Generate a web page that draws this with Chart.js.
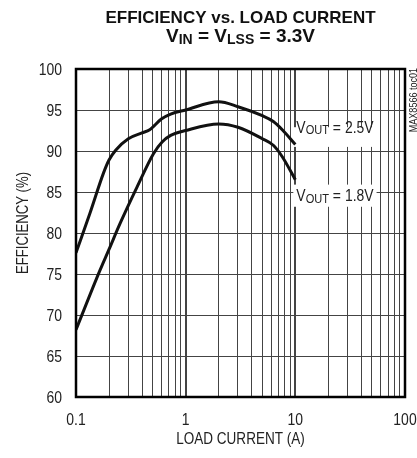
<!DOCTYPE html>
<html>
<head>
<meta charset="utf-8">
<script src="https://cdn.jsdelivr.net/npm/chart.js@4/dist/chart.umd.min.js"></script>
<style>
  body { margin: 0; background: #fff; }
  canvas { display: block; }
</style>
</head>
<body>
<canvas id="effChart" width="417" height="458"></canvas>
<script>
// Data (load current in A, efficiency in %)
const current25 = [0.1, 0.134, 0.178, 0.2, 0.23, 0.3, 0.4, 0.47, 0.6, 0.73, 1.0, 2, 3, 5, 6.3, 7.6, 10];
const eff25 = [77.6, 82.4, 87.3, 88.9, 90.1, 91.5, 92.2, 92.6, 93.9, 94.5, 95.0, 96.0, 95.4, 94.3, 93.6, 92.6, 90.8];

const current18 = [0.1, 0.166, 0.2, 0.253, 0.36, 0.51, 0.61, 0.73, 1.0, 2, 3, 5, 6.3, 7.6, 10];
const eff18 = [68.2, 75.5, 78.0, 81.2, 85.6, 89.7, 91.1, 91.9, 92.5, 93.3, 92.9, 91.5, 90.7, 89.3, 86.5];

const xTickLabels = [0.1, 1, 10, 100];
const yTickLabels = [60, 65, 70, 75, 80, 85, 90, 95, 100];

const SANS = '"Liberation Sans", Arial, sans-serif';
const NARROW = 0.82; // horizontal squeeze to imitate a narrow face

// gridlines at 1..9 of each decade
const xGrid = [];
for (let i = 0; i < xTickLabels.length - 1; i++) {
    for (let k = 1; k <= 9; k++) xGrid.push(Number((k * xTickLabels[i]).toPrecision(3)));
}
xGrid.push(xTickLabels[xTickLabels.length - 1]);

const toPoints = (xs, ys) => xs.map((x, i) => ({ x: x, y: ys[i] }));

function runsWidth(ctx, runs) {
    let w = 0;
    runs.forEach(r => { ctx.font = r.font; w += ctx.measureText(r.t).width; });
    return w;
}
// text made of several runs (for subscripts); align: 0 left, 0.5 centre, 1 right
function drawRuns(ctx, runs, x, baseline, sx, align) {
    const w = runsWidth(ctx, runs) * sx;
    ctx.save();
    ctx.translate(x - w * (align || 0), baseline);
    ctx.scale(sx, 1);
    ctx.textAlign = "left";
    let cx = 0;
    runs.forEach(r => {
        ctx.font = r.font;
        ctx.fillText(r.t, cx, r.dy || 0);
        cx += ctx.measureText(r.t).width;
    });
    ctx.restore();
    return w;
}
function narrowText(ctx, text, x, y, size, align) {
    return drawRuns(ctx, [{ t: text, font: size + "px " + SANS }], x, y, NARROW, align);
}

const seriesLabels = [
    { sub: "OUT", rest: " = 2.5V", at: 10, eff: 92.2, box: [92.9, 90.5] },
    { sub: "OUT", rest: " = 1.8V", at: 10, eff: 83.9, box: [85.9, 83.2] }
];

const decorPlugin = {
    id: "decor",
    beforeDatasetsDraw(chart) {
        const ctx = chart.ctx;
        const xs = chart.scales.x, ys = chart.scales.y;
        ctx.save();
        ctx.textBaseline = "alphabetic";
        seriesLabels.forEach(l => {
            const runs = [
                { t: "V", font: "17px " + SANS },
                { t: l.sub, font: "13.5px " + SANS, dy: 1.5 },
                { t: l.rest, font: "17px " + SANS }
            ];
            const x0 = xs.getPixelForValue(l.at) + 1;
            const w = runsWidth(ctx, runs) * NARROW;
            const top = ys.getPixelForValue(l.box[0]);
            const bot = ys.getPixelForValue(l.box[1]);
            ctx.fillStyle = "#fff";
            ctx.fillRect(x0 - 3, top, w + 6, bot - top);
            ctx.fillStyle = "#222";
            drawRuns(ctx, runs, x0, ys.getPixelForValue(l.eff), NARROW, 0);
        });
        ctx.restore();
    },
    afterDraw(chart) {
        const ctx = chart.ctx;
        const a = chart.chartArea;
        const xs = chart.scales.x, ys = chart.scales.y;
        ctx.save();
        // frame
        ctx.strokeStyle = "#000";
        ctx.lineWidth = 2.5;
        ctx.strokeRect(a.left, a.top, a.right - a.left, a.bottom - a.top);

        const cx = (a.left + a.right) / 2;
        ctx.textBaseline = "alphabetic";

        // tick labels
        ctx.fillStyle = "#222";
        yTickLabels.forEach(v => narrowText(ctx, String(v), a.left - 14, ys.getPixelForValue(v) + 6, 17, 1));
        xTickLabels.forEach(v => narrowText(ctx, String(v), xs.getPixelForValue(v), a.bottom + 28, 17, 0.5));

        // title
        ctx.fillStyle = "#111";
        ctx.textAlign = "center";
        ctx.font = "bold 17px " + SANS;
        ctx.fillText("EFFICIENCY vs. LOAD CURRENT", cx, 23);
        const t2 = [
            { t: "V", font: "bold 19px " + SANS },
            { t: "IN", font: "bold 14px " + SANS, dy: 2 },
            { t: " = V", font: "bold 19px " + SANS },
            { t: "LSS", font: "bold 14px " + SANS, dy: 2 },
            { t: " = 3.3V", font: "bold 19px " + SANS }
        ];
        drawRuns(ctx, t2, cx, 42, 1, 0.5);

        // axis titles
        ctx.fillStyle = "#222";
        narrowText(ctx, "LOAD CURRENT (A)", cx, 444, 16.5, 0.5);

        ctx.save();
        ctx.translate(28, (a.top + a.bottom) / 2 - 10);
        ctx.rotate(-Math.PI / 2);
        narrowText(ctx, "EFFICIENCY (%)", 0, 0, 16, 0.5);
        ctx.restore();

        // figure code
        ctx.save();
        ctx.translate(417, a.top - 1);
        ctx.rotate(-Math.PI / 2);
        narrowText(ctx, "MAX8566 toc01", 0, 0, 11, 1);
        ctx.restore();

        ctx.restore();
    }
};

const ctx = document.getElementById("effChart").getContext("2d");
new Chart(ctx, {
    type: "line",
    data: {
        datasets: [
            {
                label: "VOUT = 2.5V",
                data: toPoints(current25, eff25),
                borderColor: "#111",
                borderWidth: 3,
                pointRadius: 0,
                fill: false,
                cubicInterpolationMode: "monotone"
            },
            {
                label: "VOUT = 1.8V",
                data: toPoints(current18, eff18),
                borderColor: "#111",
                borderWidth: 3,
                pointRadius: 0,
                fill: false,
                cubicInterpolationMode: "monotone"
            }
        ]
    },
    options: {
        responsive: false,
        animation: false,
        devicePixelRatio: 1,
        layout: { padding: { top: 69, right: 12, left: 0, bottom: 0 } },
        plugins: {
            legend: { display: false },
            tooltip: { enabled: false }
        },
        scales: {
            x: {
                type: "logarithmic",
                min: xTickLabels[0],
                max: xTickLabels[xTickLabels.length - 1],
                afterBuildTicks: scale => {
                    scale.ticks = xGrid.map(v => ({ value: v, major: xTickLabels.includes(v) }));
                },
                afterFit: scale => {
                    scale.height = 61;
                    scale.paddingLeft = 0;
                    scale.paddingRight = 0;
                },
                border: { display: false },
                grid: {
                    color: "#444",
                    lineWidth: c => (c.tick && xTickLabels.includes(c.tick.value) ? 2 : 1),
                    drawTicks: false
                },
                ticks: { display: false, autoSkip: false }
            },
            y: {
                min: yTickLabels[0],
                max: yTickLabels[yTickLabels.length - 1],
                afterBuildTicks: scale => {
                    scale.ticks = yTickLabels.map(v => ({ value: v }));
                },
                afterFit: scale => {
                    scale.width = 76;
                    scale.paddingTop = 0;
                    scale.paddingBottom = 0;
                },
                border: { display: false },
                grid: { color: "#444", lineWidth: 1, drawTicks: false },
                ticks: { display: false }
            }
        }
    },
    plugins: [decorPlugin]
});
</script>
</body>
</html>
